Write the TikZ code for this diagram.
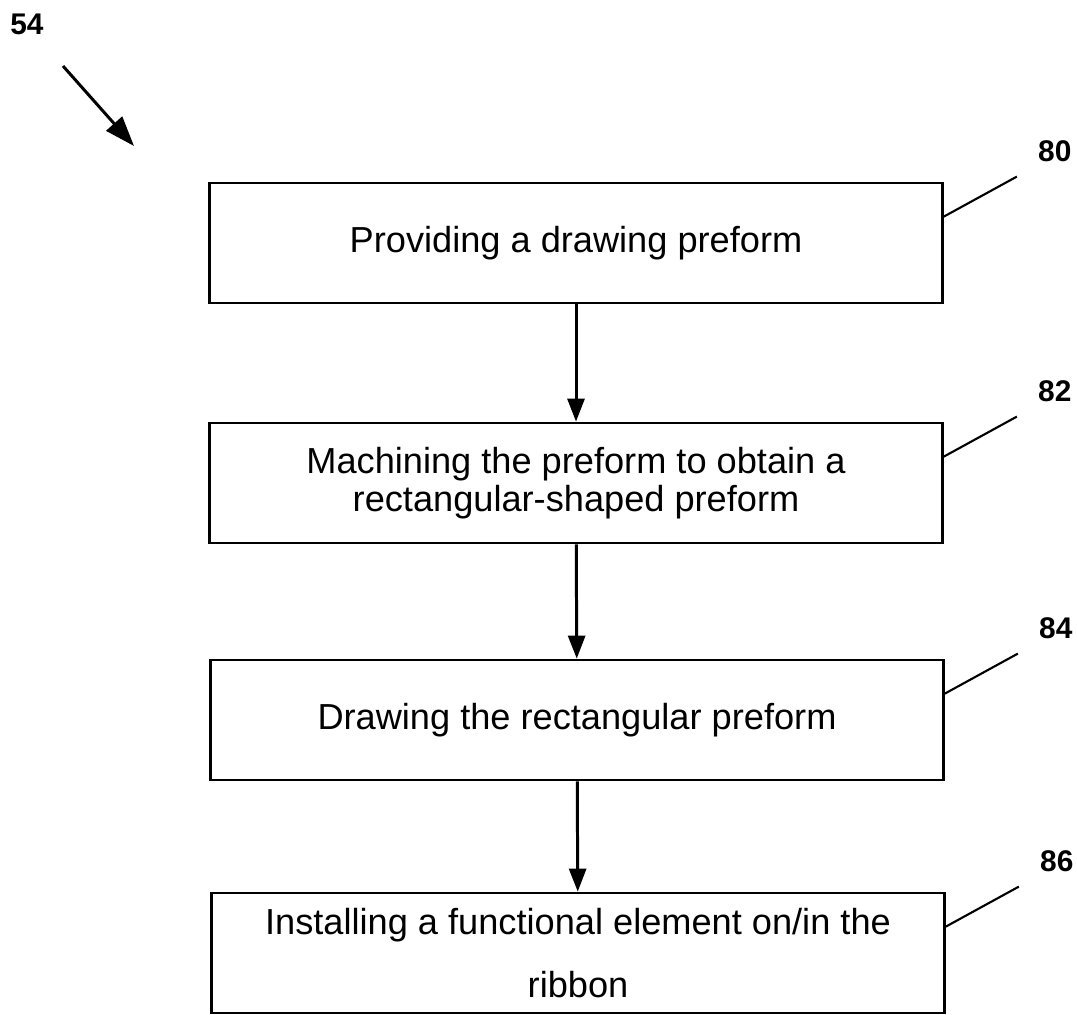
\documentclass[tikz,border=0pt]{standalone}
\usepackage{fontspec}
\setmainfont{Liberation Sans}
\usetikzlibrary{arrows.meta}
\begin{document}
\begin{tikzpicture}[x=0.02cm,y=-0.02cm,inner sep=0pt]
    \tikzstyle{stage}=[rectangle,draw,line width=1.6pt,minimum width=14.66cm,minimum height=2.4cm,align=center,font=\fontsize{20.6pt}{21.5pt}\selectfont]
    \tikzstyle{ref}=[font=\fontsize{17pt}{17pt}\selectfont\bfseries]
    \tikzstyle{flow}=[-{Triangle[length=0.46cm,width=0.34cm]},line width=1.7pt]
    \tikzstyle{lead}=[line width=1.2pt]
    \useasboundingbox (0,0) rectangle (1077,1014);

    \node[stage] (s1) at (576,243) {Providing a drawing preform};
    \node[stage] (s2) at (576,483) {Machining the preform to obtain a\\rectangular-shaped preform};
    \node[stage] (s3) at (577,720) {Drawing the rectangular preform};
    \node[stage] (s4) at (578,953) {Installing a functional element on/in the\\[14pt]ribbon};

    \foreach \i in {1,...,3} {
        \pgfmathtruncatemacro{\iplusone}{\i + 1};
        \draw[flow] (s\i) -- (s\iplusone);
    };

    \foreach \i/\n in {1/80,2/82,3/84,4/86} {
        \coordinate (e\i) at ([xshift=1.46cm,yshift=0.1cm]s\i.north east);
        \node[ref] (n\i) at ([xshift=2.22cm,yshift=0.6cm]s\i.north east) {\n};
        \draw[lead] ([yshift=-0.7cm]s\i.north east) -- (e\i);
    };

    \node[ref] (fig) at (27,24) {54};
    \coordinate (f0) at (63,66);
    \coordinate (f1) at (134,146);
    \draw[flow,-{Triangle[length=0.6cm,width=0.42cm]}] (f0) -- (f1);
\end{tikzpicture}
\end{document}
